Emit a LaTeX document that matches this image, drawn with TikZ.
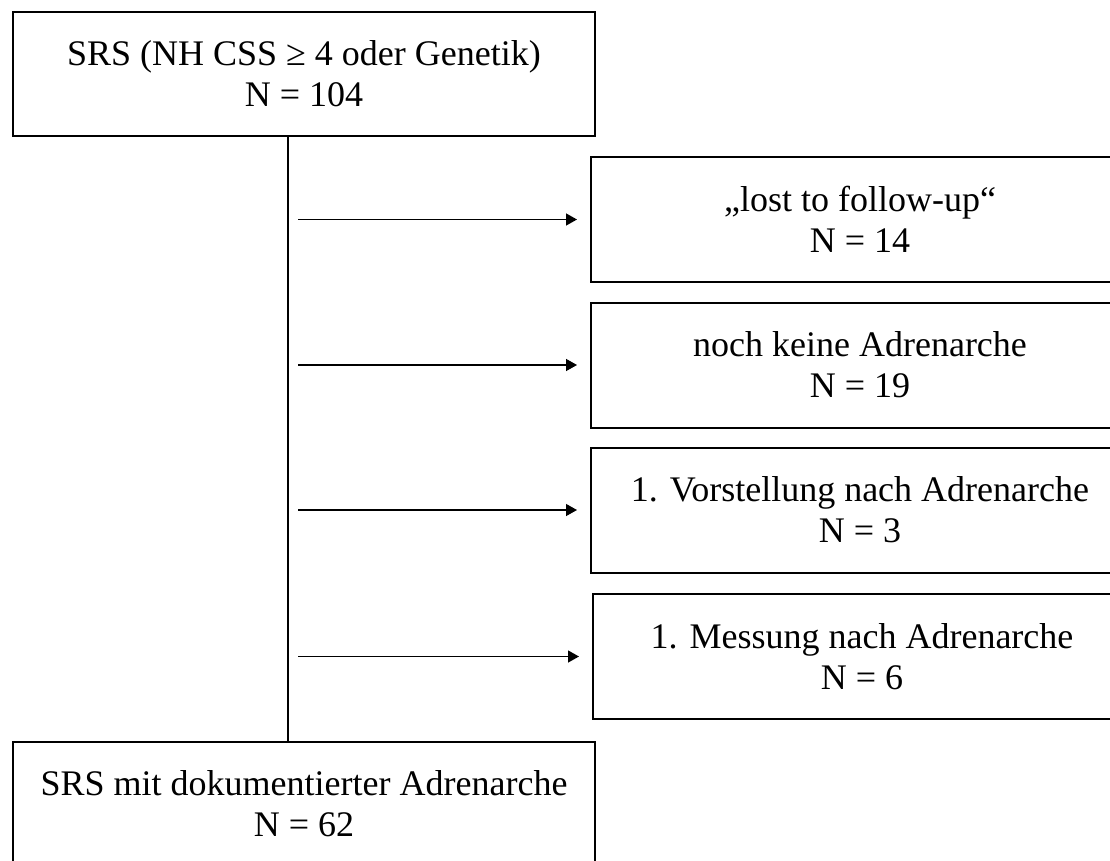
\documentclass[tikz,border=0pt]{standalone}
\usepackage{fontspec}
\setmainfont{Liberation Serif}
\usetikzlibrary{arrows.meta}

\tikzset{
  box/.style={draw, line width=2pt, inner sep=0pt, align=center,
    font=\fontsize{36}{41}\selectfont},
  flow/.style={line width=1.3pt},
  arr/.style={flow, -{Triangle[length=11pt,width=12pt]}, shorten >=13pt},
}
\newcommand{\drawexits}[1] {
    \foreach \nm/\xx/\yy/\lbl in #1 {
      \node[box, anchor=west, minimum width=538pt, minimum height=125pt] (\nm) at (\xx,\yy) {\lbl};
      \coordinate (t\nm) at (298,\yy); % arrow starts right of the spine
      \draw[arr] (t\nm) -- (\nm);
    }
}

\begin{document}
\begin{tikzpicture}[x=1pt, y=-1pt]
    \useasboundingbox (0,0) rectangle (1110,861);
    \coordinate (spine) at (288,0);
    \node[box, minimum width=582pt, minimum height=124pt] (top) at (304,74)
      {SRS (NH CSS ≥ 4 oder Genetik)\\N = 104};
    \node[box, minimum width=582pt, minimum height=124pt] (bottom) at (304,804)
      {SRS mit dokumentierter Adrenarche\\N = 62};
    \draw[flow] (top.south -| spine) -- (bottom.north -| spine);
    \drawexits{{lost/590/219.5/„lost to follow-up“\\N = 14,
      keine/590/365/noch keine Adrenarche\\N = 19,
      vorst/590/510/1. Vorstellung nach Adrenarche\\N = 3,
      mess/592/656.5/1. Messung nach Adrenarche\\N = 6}}
\end{tikzpicture}
\end{document}
